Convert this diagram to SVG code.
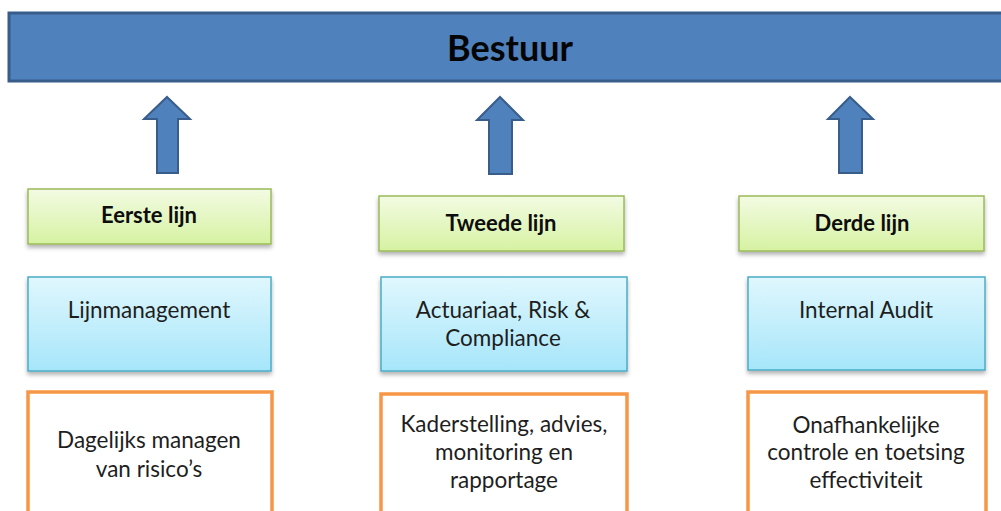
<svg xmlns="http://www.w3.org/2000/svg" width="1001" height="511" viewBox="0 0 1001 511">
<defs>
<linearGradient id="gGreen" x1="0" y1="0" x2="0" y2="1"><stop offset="0" stop-color="#F3FBE3"/><stop offset="1" stop-color="#D6F2A2"/></linearGradient>
<linearGradient id="gBlue" x1="0" y1="0" x2="0" y2="1"><stop offset="0" stop-color="#E0F7FD"/><stop offset="1" stop-color="#A6E6FA"/></linearGradient>
<filter id="sh" x="-10%" y="-10%" width="120%" height="130%"><feDropShadow dx="0" dy="3" stdDeviation="2" flood-color="#000" flood-opacity="0.3"/></filter>
<style>
.bar{fill:#4F81BD;stroke:#385D8A;stroke-width:3}
.arrow{fill:#4F81BD;stroke:#385D8A;stroke-width:2;stroke-linejoin:miter}
.green{fill:url(#gGreen);stroke:#9BBB59;stroke-width:1.5;filter:url(#sh)}
.blue{fill:url(#gBlue);stroke:#4BACC6;stroke-width:1.5;filter:url(#sh)}
.orange{fill:#fff;stroke:#F79646;stroke-width:3.5}
text{font-family:Lato,"Open Sans","Liberation Sans",sans-serif;fill:#1e1e1e;text-anchor:middle}
.t{font-size:22.5px}
.b{font-size:22px;font-weight:bold;fill:#0d0d0d}
.h{font-size:36px;font-weight:bold;fill:#050505}
</style>
</defs>
<rect width="1001" height="511" fill="#fff"/>
<g id="bestuur"><rect class="bar" x="9" y="13" width="1000" height="68"/><text class="h" x="510" y="61">Bestuur</text></g>
<g id="connectors">
<path class="arrow" d="M167 97 L190 119 L178 119 L178 173 L157 173 L157 119 L144 119 Z"/>
<path class="arrow" d="M500 97 L523 120 L512 120 L512 174 L489 174 L489 120 L477 120 Z"/>
<path class="arrow" d="M850 97 L873 119 L862 119 L862 173 L839 173 L839 119 L828 119 Z"/>
</g>
<g id="eerste-lijn"><rect class="green" x="28" y="189" width="243" height="55"/><text class="b" x="149" y="223">Eerste lijn</text></g>
<g id="tweede-lijn"><rect class="green" x="379" y="196" width="245" height="55"/><text class="b" x="501" y="231">Tweede lijn</text></g>
<g id="derde-lijn"><rect class="green" x="739" y="196" width="245" height="55"/><text class="b" x="862" y="231">Derde lijn</text></g>
<g id="lijnmanagement"><rect class="blue" x="28" y="277" width="243" height="94"/><text class="t" x="149" y="318">Lijnmanagement</text></g>
<g id="actuariaat"><rect class="blue" x="381" y="277" width="246" height="94"/><text class="t" x="503" y="318">Actuariaat, Risk &amp;</text><text class="t" x="503" y="346">Compliance</text></g>
<g id="internal-audit"><rect class="blue" x="748" y="277" width="237" height="93"/><text class="t" x="866" y="318">Internal Audit</text></g>
<g id="dagelijks"><rect class="orange" x="28" y="392" width="244" height="130"/><text class="t" x="149" y="448">Dagelijks managen</text><text class="t" x="149" y="477">van risico’s</text></g>
<g id="kaderstelling"><rect class="orange" x="381" y="394" width="246" height="130"/><text class="t" x="504" y="432">Kaderstelling, advies,</text><text class="t" x="504" y="460">monitoring en</text><text class="t" x="504" y="488">rapportage</text></g>
<g id="onafhankelijke"><rect class="orange" x="748" y="392" width="238" height="130"/><text class="t" x="866" y="433">Onafhankelijke</text><text class="t" x="866" y="460">controle en toetsing</text><text class="t" x="866" y="488">effectiviteit</text></g>
</svg>
